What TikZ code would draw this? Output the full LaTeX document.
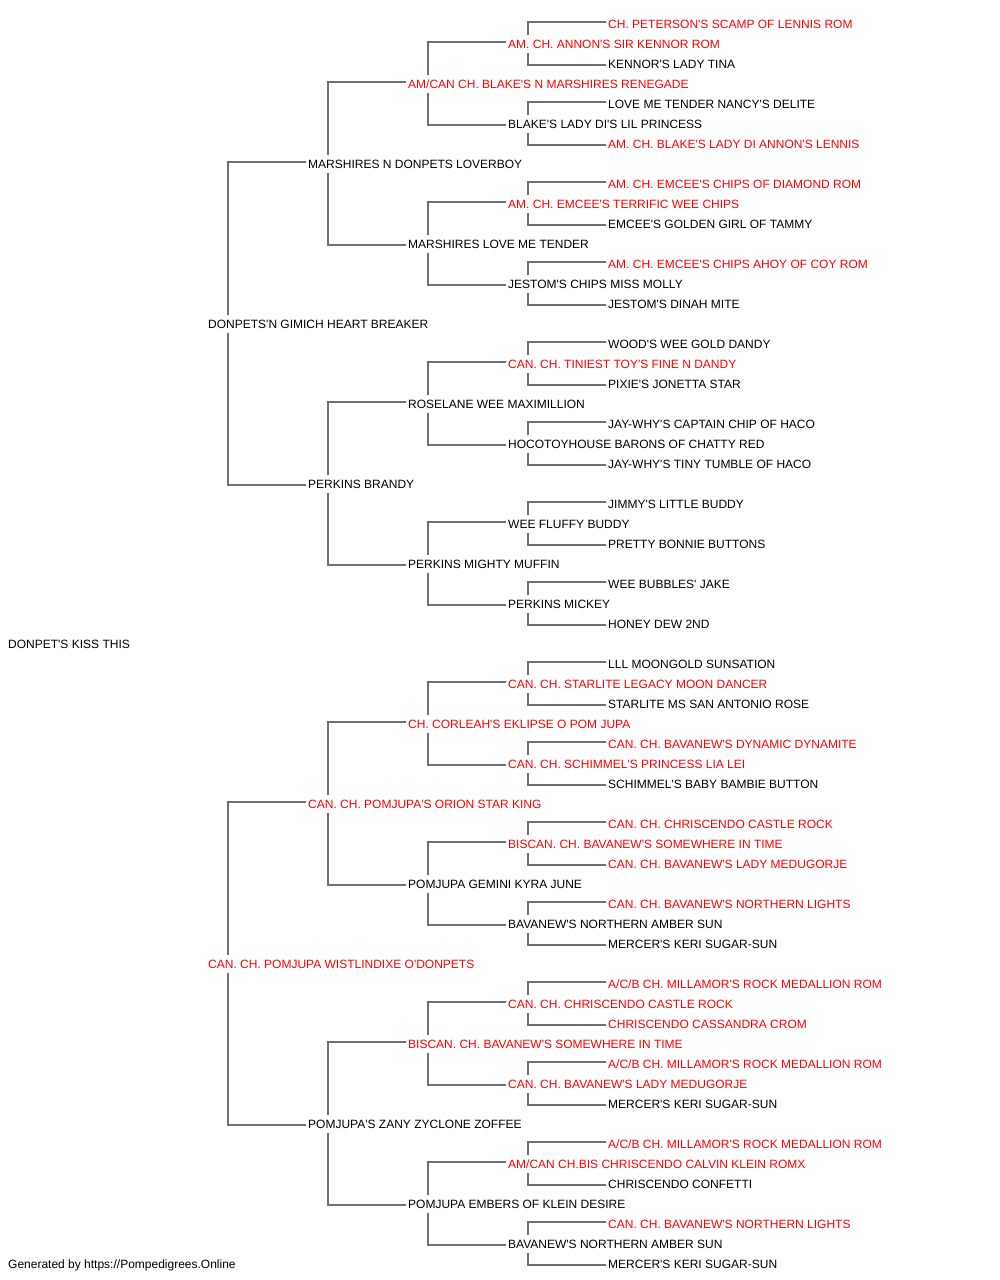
\documentclass[tikz,border=0pt]{standalone}
\usepackage{fontspec}
\setmainfont{Liberation Sans}[Ligatures=TeXOff]
\usetikzlibrary{calc}
\definecolor{linegray}{HTML}{707070}
\definecolor{redname}{HTML}{FF0000}
\definecolor{blackname}{HTML}{000000}
\tikzset{
  dog/.style={anchor=base west, inner sep=0pt, font=\fontsize{12}{14}\selectfont, text=blackname},
  champ/.style={dog, text=redname},
  conn/.style={draw=linegray, line width=2pt},
}
\newcommand{\dognode}[5]{\node[#4] (n#1) at (#2,{-(28+20*#3)}) {#5};}
\begin{document}
\begin{tikzpicture}[x=1pt,y=1pt]
\useasboundingbox (0,0) rectangle (1000,-1280);
% generation 0
\dognode{31}{8}{31}{dog}{DONPET'S KISS THIS}
% generation 1
\dognode{15}{208}{15}{dog}{DONPETS'N GIMICH HEART BREAKER}
\dognode{47}{208}{47}{champ}{CAN. CH. POMJUPA WISTLINDIXE O'DONPETS}
% generation 2
\dognode{7}{308}{7}{dog}{MARSHIRES N DONPETS LOVERBOY}
\dognode{23}{308}{23}{dog}{PERKINS BRANDY}
\dognode{39}{308}{39}{champ}{CAN. CH. POMJUPA'S ORION STAR KING}
\dognode{55}{308}{55}{dog}{POMJUPA'S ZANY ZYCLONE ZOFFEE}
% generation 3
\dognode{3}{408}{3}{champ}{AM/CAN CH. BLAKE'S N MARSHIRES RENEGADE}
\dognode{11}{408}{11}{dog}{MARSHIRES LOVE ME TENDER}
\dognode{19}{408}{19}{dog}{ROSELANE WEE MAXIMILLION}
\dognode{27}{408}{27}{dog}{PERKINS MIGHTY MUFFIN}
\dognode{35}{408}{35}{champ}{CH. CORLEAH'S EKLIPSE O POM JUPA}
\dognode{43}{408}{43}{dog}{POMJUPA GEMINI KYRA JUNE}
\dognode{51}{408}{51}{champ}{BISCAN. CH. BAVANEW'S SOMEWHERE IN TIME}
\dognode{59}{408}{59}{dog}{POMJUPA EMBERS OF KLEIN DESIRE}
% generation 4
\dognode{1}{508}{1}{champ}{AM. CH. ANNON'S SIR KENNOR ROM}
\dognode{5}{508}{5}{dog}{BLAKE'S LADY DI'S LIL PRINCESS}
\dognode{9}{508}{9}{champ}{AM. CH. EMCEE'S TERRIFIC WEE CHIPS}
\dognode{13}{508}{13}{dog}{JESTOM'S CHIPS MISS MOLLY}
\dognode{17}{508}{17}{champ}{CAN. CH. TINIEST TOY'S FINE N DANDY}
\dognode{21}{508}{21}{dog}{HOCOTOYHOUSE BARONS OF CHATTY RED}
\dognode{25}{508}{25}{dog}{WEE FLUFFY BUDDY}
\dognode{29}{508}{29}{dog}{PERKINS MICKEY}
\dognode{33}{508}{33}{champ}{CAN. CH. STARLITE LEGACY MOON DANCER}
\dognode{37}{508}{37}{champ}{CAN. CH. SCHIMMEL'S PRINCESS LIA LEI}
\dognode{41}{508}{41}{champ}{BISCAN. CH. BAVANEW'S SOMEWHERE IN TIME}
\dognode{45}{508}{45}{dog}{BAVANEW'S NORTHERN AMBER SUN}
\dognode{49}{508}{49}{champ}{CAN. CH. CHRISCENDO CASTLE ROCK}
\dognode{53}{508}{53}{champ}{CAN. CH. BAVANEW'S LADY MEDUGORJE}
\dognode{57}{508}{57}{champ}{AM/CAN CH.BIS CHRISCENDO CALVIN KLEIN ROMX}
\dognode{61}{508}{61}{dog}{BAVANEW'S NORTHERN AMBER SUN}
% generation 5
\dognode{0}{608}{0}{champ}{CH. PETERSON'S SCAMP OF LENNIS ROM}
\dognode{2}{608}{2}{dog}{KENNOR'S LADY TINA}
\dognode{4}{608}{4}{dog}{LOVE ME TENDER NANCY'S DELITE}
\dognode{6}{608}{6}{champ}{AM. CH. BLAKE'S LADY DI ANNON'S LENNIS}
\dognode{8}{608}{8}{champ}{AM. CH. EMCEE'S CHIPS OF DIAMOND ROM}
\dognode{10}{608}{10}{dog}{EMCEE'S GOLDEN GIRL OF TAMMY}
\dognode{12}{608}{12}{champ}{AM. CH. EMCEE'S CHIPS AHOY OF COY ROM}
\dognode{14}{608}{14}{dog}{JESTOM'S DINAH MITE}
\dognode{16}{608}{16}{dog}{WOOD'S WEE GOLD DANDY}
\dognode{18}{608}{18}{dog}{PIXIE'S JONETTA STAR}
\dognode{20}{608}{20}{dog}{JAY-WHY'S CAPTAIN CHIP OF HACO}
\dognode{22}{608}{22}{dog}{JAY-WHY'S TINY TUMBLE OF HACO}
\dognode{24}{608}{24}{dog}{JIMMY'S LITTLE BUDDY}
\dognode{26}{608}{26}{dog}{PRETTY BONNIE BUTTONS}
\dognode{28}{608}{28}{dog}{WEE BUBBLES' JAKE}
\dognode{30}{608}{30}{dog}{HONEY DEW 2ND}
\dognode{32}{608}{32}{dog}{LLL MOONGOLD SUNSATION}
\dognode{34}{608}{34}{dog}{STARLITE MS SAN ANTONIO ROSE}
\dognode{36}{608}{36}{champ}{CAN. CH. BAVANEW'S DYNAMIC DYNAMITE}
\dognode{38}{608}{38}{dog}{SCHIMMEL'S BABY BAMBIE BUTTON}
\dognode{40}{608}{40}{champ}{CAN. CH. CHRISCENDO CASTLE ROCK}
\dognode{42}{608}{42}{champ}{CAN. CH. BAVANEW'S LADY MEDUGORJE}
\dognode{44}{608}{44}{champ}{CAN. CH. BAVANEW'S NORTHERN LIGHTS}
\dognode{46}{608}{46}{dog}{MERCER'S KERI SUGAR-SUN}
\dognode{48}{608}{48}{champ}{A/C/B CH. MILLAMOR'S ROCK MEDALLION ROM}
\dognode{50}{608}{50}{champ}{CHRISCENDO CASSANDRA CROM}
\dognode{52}{608}{52}{champ}{A/C/B CH. MILLAMOR'S ROCK MEDALLION ROM}
\dognode{54}{608}{54}{dog}{MERCER'S KERI SUGAR-SUN}
\dognode{56}{608}{56}{champ}{A/C/B CH. MILLAMOR'S ROCK MEDALLION ROM}
\dognode{58}{608}{58}{dog}{CHRISCENDO CONFETTI}
\dognode{60}{608}{60}{champ}{CAN. CH. BAVANEW'S NORTHERN LIGHTS}
\dognode{62}{608}{62}{dog}{MERCER'S KERI SUGAR-SUN}
% footer
\node[dog] (footer) at (8,-1268) {Generated by https://Pompedigrees.Online};
% connectors
\foreach \off in {1,2,4,8} {
  \pgfmathtruncatemacro\kmax{16/\off-1}
  \foreach \k in {0,...,\kmax} {
    \pgfmathtruncatemacro\pRow{2*\off*(2*\k+1)-1}
    \pgfmathtruncatemacro\sRow{\pRow-\off}
    \pgfmathtruncatemacro\dRow{\pRow+\off}
    \draw[conn] ($(n\pRow.base west)+(20,13)$) |- ($(n\sRow.base west)+(-2,6)$);
    \draw[conn] ($(n\pRow.base west)+(20,-5)$) |- ($(n\dRow.base west)+(-2,3.5)$);
  }
}
\end{tikzpicture}
\end{document}
